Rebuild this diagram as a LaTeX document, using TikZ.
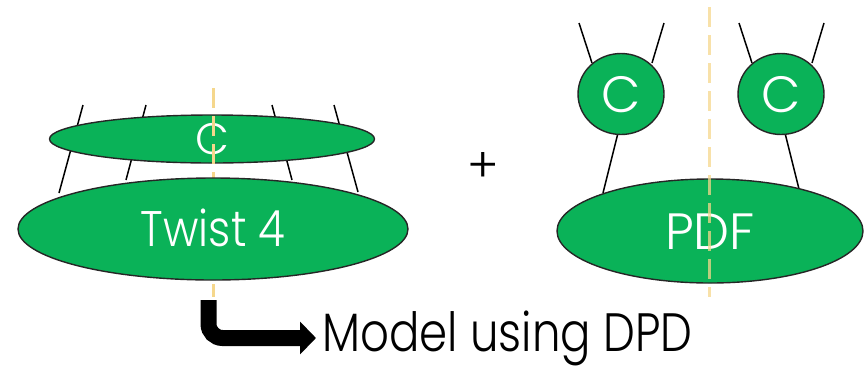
\documentclass[tikz,border=0pt]{standalone}
\usepackage{fontspec}
\setmainfont{Poppins}[UprightFont={* Light}]
\newfontfamily\narrowfont{Poppins}[UprightFont={* Light}, FakeStretch=0.87]
\newfontfamily\narrowerfont{Poppins}[UprightFont={* Light}, FakeStretch=0.835]
\usetikzlibrary{arrows.meta,shapes.geometric}
\definecolor{blobgreen}{RGB}{10,178,88}
\definecolor{cutline}{RGB}{245,215,140}
\tikzset{
  blob/.style={ellipse, draw=black!85, line width=1.4pt, fill=blobgreen, text=white, inner sep=0pt, text depth=0pt},
  leg/.style={draw=black, line width=1.5pt},
  cut/.style={draw=cutline, line width=3pt, dash pattern=on 20pt off 8pt},
}
\begin{document}
\begin{tikzpicture}[x=1pt,y=-1pt]
\useasboundingbox (0,0) rectangle (866,365);
% ---------- left diagram ----------
\coordinate (l1a) at (83,105);  \coordinate (l1b) at (59,193);
\coordinate (l2a) at (146,105); \coordinate (l2b) at (126,180);
\coordinate (l3a) at (272,105); \coordinate (l3b) at (292,180);
\coordinate (l4a) at (334,105); \coordinate (l4b) at (358,192);
\draw[leg] (l1a) -- (l1b);
\draw[leg] (l2a) -- (l2b);
\draw[leg] (l3a) -- (l3b);
\draw[leg] (l4a) -- (l4b);
\node[blob, minimum width=325pt, minimum height=48pt, text height=31pt,
      font=\fontsize{44}{44}\selectfont] (cl) at (212,139) {C};
\coordinate (cutLtop) at (213,88);
\coordinate (cutLbot) at (213,297);
\draw[cut] (cutLtop) -- (cutLbot);
\node[blob, minimum width=390pt, minimum height=102pt, text height=35pt,
      font=\narrowfont\fontsize{50}{50}\selectfont] (tw) at (213,229) {Twist 4};
% ---------- plus ----------
\node[font=\fontsize{48}{48}\selectfont, inner sep=0pt] (plus) at (483,167) {+};
% ---------- right diagram ----------
\coordinate (r1a) at (579,23);  \coordinate (r1b) at (592,63);
\coordinate (r2a) at (664,23);  \coordinate (r2b) at (652,63);
\coordinate (r3a) at (618,133); \coordinate (r3b) at (603,193);
\coordinate (r4a) at (739,23);  \coordinate (r4b) at (752,63);
\coordinate (r5a) at (824,23);  \coordinate (r5b) at (812,63);
\coordinate (r6a) at (785,133); \coordinate (r6b) at (800,193);
\foreach \i in {1,...,6} {\draw[leg] (r\i a) -- (r\i b);}
\node[blob, minimum width=306pt, minimum height=104pt, text height=36pt,
      font=\fontsize{51}{51}\selectfont] (pdf) at (710,231) {PDF};
\node[blob, minimum width=86pt, minimum height=81pt, text height=36pt,
      font=\fontsize{51}{51}\selectfont] (c1) at (621,94) {C};
\node[blob, minimum width=86pt, minimum height=81pt, text height=36pt,
      font=\fontsize{51}{51}\selectfont] (c2) at (781,94) {C};
\coordinate (cutRtop) at (709,7);
\coordinate (cutRbot) at (709,297);
\draw[cut, draw opacity=0.75] (cutRtop) -- (cutRbot);
% ---------- bottom arrow and text ----------
\node[anchor=base west, inner sep=0pt, font=\narrowerfont\fontsize{54}{54}\selectfont] (model) at (322,351) {Model using DPD};
\coordinate (arrS) at (208.5,300);
\coordinate (arrE) at (316,338);
\draw[line width=16pt, rounded corners=14pt, -{Triangle[length=16pt,width=32pt]}]
  (arrS) |- (arrE);
\end{tikzpicture}
\end{document}
